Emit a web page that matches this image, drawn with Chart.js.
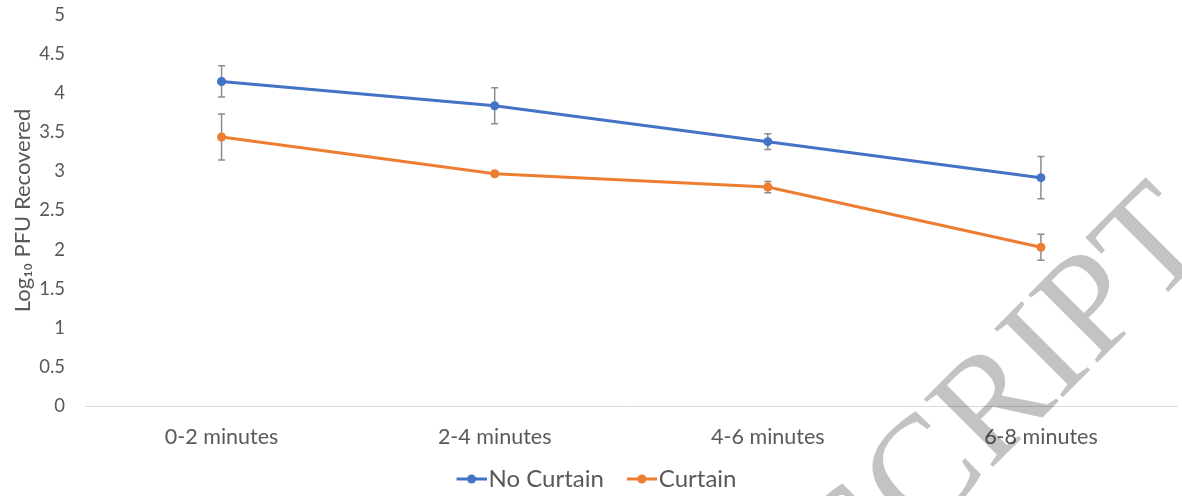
<!DOCTYPE html>
<html>
<head>
<meta charset="utf-8">
<script src="https://cdn.jsdelivr.net/npm/chart.js@4.4.1/dist/chart.umd.min.js"></script>
<style>
  html, body { margin: 0; padding: 0; background: #ffffff; }
  #wrap { width: 1182px; height: 496px; }
</style>
</head>
<body>
<div id="wrap"><canvas id="c" width="1182" height="496"></canvas></div>
<script>
// ---- data ----
const categories = ['0-2 minutes', '2-4 minutes', '4-6 minutes', '6-8 minutes'];
const noCurtain = [4.15, 3.84, 3.38, 2.92];
const noCurtainErr = [0.20, 0.23, 0.10, 0.27];
const curtain = [3.44, 2.97, 2.80, 2.03];
const curtainErr = [0.295, 0.03, 0.072, 0.167];
const yMin = 0, yMax = 5, yStep = 0.5;
const yTitle = 'Log\u2081\u2080 PFU Recovered';
const watermark = 'MANUSCRIPT';

const FONT = 'Lato, "Noto Sans", sans-serif';
const TEXT = '#595959';
const BLUE = '#4472C4';
const ORANGE = '#ED7D31';

function legendMarker(color) {
  const cv = document.createElement('canvas');
  cv.width = 48; cv.height = 12;
  const g = cv.getContext('2d');
  g.strokeStyle = color; g.lineWidth = 3;
  g.beginPath(); g.moveTo(18, 6); g.lineTo(48, 6); g.stroke();
  g.fillStyle = color;
  g.beginPath(); g.arc(33, 6, 4.5, 0, Math.PI * 2); g.fill();
  return cv;
}

const errorBars = {
  id: 'errorBars',
  beforeDatasetsDraw(chart) {
    const ctx = chart.ctx, y = chart.scales.y;
    ctx.save();
    ctx.strokeStyle = '#8c8c8c';
    ctx.lineWidth = 1.5;
    chart.data.datasets.forEach((ds, di) => {
      const meta = chart.getDatasetMeta(di);
      ds.errors.forEach((e, i) => {
        const px = meta.data[i].x;
        const yt = y.getPixelForValue(ds.data[i] + e);
        const yb = y.getPixelForValue(ds.data[i] - e);
        ctx.beginPath();
        ctx.moveTo(px, yt); ctx.lineTo(px, yb);
        ctx.moveTo(px - 3.5, yt); ctx.lineTo(px + 3.5, yt);
        ctx.moveTo(px - 3.5, yb); ctx.lineTo(px + 3.5, yb);
        ctx.stroke();
      });
    });
    ctx.restore();
  }
};

const watermarkPlugin = {
  id: 'watermark',
  afterDraw(chart) {
    const ctx = chart.ctx;
    ctx.save();
    ctx.globalCompositeOperation = 'multiply';
    ctx.fillStyle = '#c3c3c3';
    ctx.font = '148px "Liberation Serif", "DejaVu Serif", serif';
    ctx.translate(1216, 244);
    ctx.rotate(-45 * Math.PI / 180);
    ctx.textAlign = 'right';
    ctx.textBaseline = 'alphabetic';
    ctx.fillText(watermark, 0, 0);
    ctx.restore();
  }
};

const markers = [legendMarker(BLUE), legendMarker(ORANGE)];

new Chart(document.getElementById('c'), {
  type: 'line',
  data: {
    labels: categories,
    datasets: [
      { label: 'No Curtain', data: noCurtain, errors: noCurtainErr,
        borderColor: BLUE, backgroundColor: BLUE, borderWidth: 3,
        pointRadius: 4.5, pointBorderWidth: 0, pointBackgroundColor: BLUE, tension: 0 },
      { label: 'Curtain', data: curtain, errors: curtainErr,
        borderColor: ORANGE, backgroundColor: ORANGE, borderWidth: 3,
        pointRadius: 4.5, pointBorderWidth: 0, pointBackgroundColor: ORANGE, tension: 0 }
    ]
  },
  options: {
    responsive: false,
    devicePixelRatio: 1,
    animation: false,
    layout: { padding: { top: 15, left: 0, right: -3, bottom: -5 } },
    scales: {
      x: {
        offset: true,
        grid: { display: false, drawTicks: false },
        border: { display: true, color: '#d9d9d9', width: 1 },
        ticks: { color: TEXT, font: { family: FONT, size: 21.5 }, padding: 18, maxRotation: 0 },
        afterFit(s) { s.height = 46; }
      },
      y: {
        min: yMin, max: yMax,
        grid: { display: false, drawTicks: false },
        border: { display: false },
        ticks: { stepSize: yStep, color: TEXT, font: { family: FONT, size: 18.5 }, padding: 20,
                 callback: (v) => String(v) },
        title: { display: true, text: yTitle, color: TEXT, font: { family: FONT, size: 22 }, padding: { top: 10, bottom: 0 } },
        afterFit(s) { s.width = 85; s.paddingTop = 0; s.paddingBottom = 0; }
      }
    },
    plugins: {
      tooltip: { enabled: false },
      legend: {
        position: 'bottom',
        labels: {
          color: TEXT,
          font: { family: FONT, size: 24 },
          usePointStyle: true,
          pointStyleWidth: 28,
          padding: 15,
          generateLabels(chart) {
            const items = Chart.defaults.plugins.legend.labels.generateLabels(chart);
            items.forEach((it, i) => { it.pointStyle = markers[i]; });
            return items;
          }
        }
      }
    }
  },
  plugins: [errorBars, watermarkPlugin]
});
</script>
</body>
</html>
